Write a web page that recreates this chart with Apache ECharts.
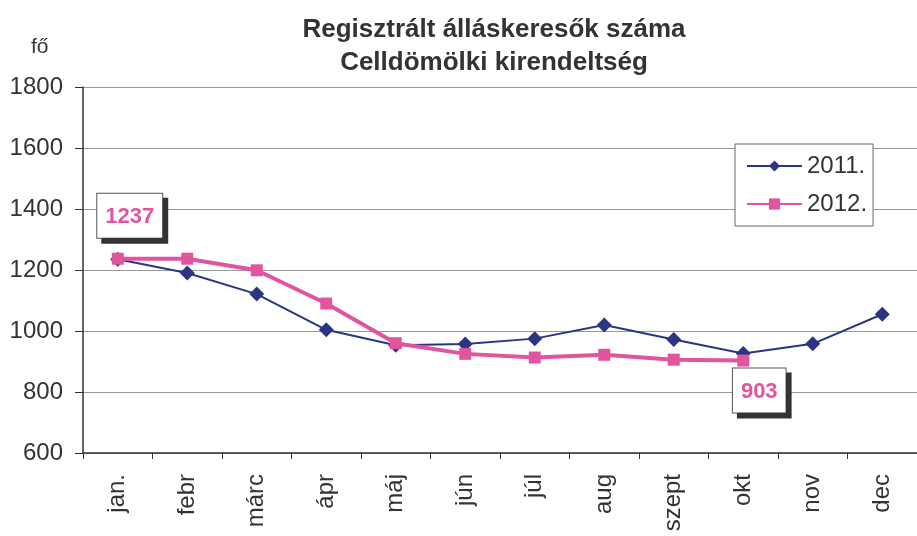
<!DOCTYPE html>
<html><head><meta charset="utf-8">
<script src="https://cdn.jsdelivr.net/npm/echarts@6/dist/echarts.min.js"></script>
<style>html,body{margin:0;padding:0;background:#fff}#c{width:917px;height:536px}</style>
</head><body><div id="c"></div>
<script>
const categories = ['jan.','febr','márc','ápr','máj','jún','júl','aug','szept','okt','nov','dec'];
const values2011 = [1235,1190,1121,1004,953,957,975,1020,972,926,958,1055];
const values2012 = [1237,1237,1199,1090,960,925,913,922,906,903,null,null];
const yTicks = {min:600, max:1800, interval:200};
const titleLines = ['Regisztrált álláskeresők száma','Celldömölki kirendeltség'];
const ff = 'Liberation Sans, Arial, sans-serif';
const pink = '#E0559E', navy = '#2B3584';
const labelStyle = {
  show:true, color:pink, fontSize:22, fontWeight:'bold', fontFamily:ff,
  backgroundColor:'#fff', borderColor:'#555', borderWidth:1,
  padding:[12,8,10,8], shadowColor:'#333', shadowOffsetX:5, shadowOffsetY:5, shadowBlur:0,
  formatter:p=>String(p.value)
};
const data2012 = values2012.map((v,i)=>{
  if(i===0) return {value:v, label:Object.assign({}, labelStyle, {position:'top', offset:[12,-10]})};
  if(i===9) return {value:v, label:Object.assign({}, labelStyle, {position:'bottom', offset:[16,-3]})};
  return v;
});
const chart = echarts.init(document.getElementById('c'), null, {renderer:'canvas'});
chart.setOption({
  animation:false,
  title:{text:titleLines.join('\n'), left:489, textAlign:'center', top:8,
    textStyle:{fontFamily:ff, fontSize:26, fontWeight:'bold', color:'#333', lineHeight:33}},
  graphic:[{type:'text', left:31, top:37, style:{text:'fő', fontFamily:ff, fontSize:21, fill:'#333'}}],
  legend:{left:735, top:144, orient:'vertical', borderColor:'#666', borderWidth:1,
    backgroundColor:'#fff', padding:[10,6,10,11], itemGap:14, itemWidth:55, itemHeight:14,
    textStyle:{fontFamily:ff, fontSize:24, color:'#333', padding:[0,0,0,0]},
    data:['2011.','2012.']},
  grid:{left:83, top:87, width:843, height:366, containLabel:false},
  xAxis:{type:'category', data:categories, boundaryGap:true,
    axisLine:{lineStyle:{color:'#333', width:1.5}},
    axisTick:{show:true, length:6, lineStyle:{color:'#333'}},
    axisLabel:{rotate:90, fontFamily:ff, fontSize:24, color:'#333', margin:21, interval:0}},
  yAxis:{type:'value', min:yTicks.min, max:yTicks.max, interval:yTicks.interval,
    axisLine:{show:true, lineStyle:{color:'#333', width:1.5}},
    axisTick:{show:true, length:8, lineStyle:{color:'#333'}},
    axisLabel:{fontFamily:ff, fontSize:24, color:'#333', margin:20, formatter:v=>String(v)},
    splitLine:{lineStyle:{color:'#999', width:1}}},
  series:[
    {name:'2011.', type:'line', data:values2011, symbol:'diamond', symbolSize:15,
      lineStyle:{color:navy, width:2}, itemStyle:{color:navy}, z:2},
    {name:'2012.', type:'line', data:data2012, symbol:'rect', symbolSize:12,
      lineStyle:{color:pink, width:4}, itemStyle:{color:pink}, z:3}
  ]
});
</script></body></html>
